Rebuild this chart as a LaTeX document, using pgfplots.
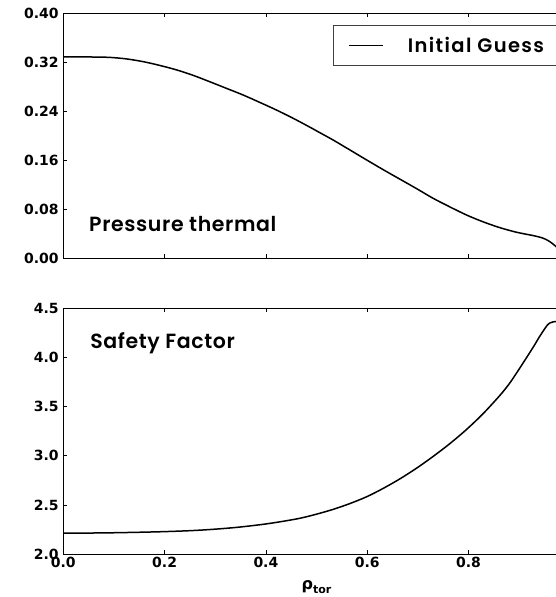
\documentclass[border=0pt]{standalone}
\usepackage{fontspec}
\usepackage{pgfplots}
\pgfplotsset{compat=1.18}
\setmainfont{DejaVu Sans}
\newfontfamily\tickfont{DejaVu Sans}
\newfontfamily\labfont{Poppins SemiBold}[LetterSpace=3]
\newfontfamily\legfont{Poppins SemiBold}[LetterSpace=7]
\newcommand\tf{\tickfont\bfseries\fontsize{14bp}{16bp}\selectfont}
\newcommand\lf{\labfont\fontsize{20.5bp}{24bp}\selectfont}
\newcommand\legf{\legfont\fontsize{19.5bp}{22bp}\selectfont}

\pgfplotsset{
  myax/.style={
    scale only axis, width=506.5bp, xmin=0, xmax=1,
    tick align=inside, major tick length=4bp,
    axis line style={line width=1.4bp},
    every tick/.style={black, line width=0.8bp},
    ticklabel style={font=\tf},
    /pgf/number format/assume math mode=true,
    xtick={0,0.2,0.4,0.6,0.8,1.0},
    yticklabel style={anchor=east, inner sep=0pt, xshift=-4.5bp},
    xticklabel style={anchor=north, inner sep=0pt, yshift=-2.7bp},
  }
}

\pgfplotstableread{
x p
0.000 0.3290
0.030 0.3289
0.060 0.3286
0.092 0.3280
0.125 0.3255
0.158 0.3210
0.190 0.3150
0.224 0.3075
0.257 0.2985
0.290 0.2880
0.322 0.2775
0.355 0.2666
0.388 0.2545
0.421 0.2420
0.454 0.2285
0.487 0.2140
0.510 0.2035
0.533 0.1930
0.566 0.1768
0.599 0.1605
0.632 0.1445
0.665 0.1290
0.698 0.1135
0.730 0.0980
0.763 0.0840
0.796 0.0707
0.829 0.0595
0.862 0.0500
0.895 0.0425
0.928 0.0370
0.945 0.0335
0.956 0.0295
0.965 0.0245
0.973 0.0190
0.985 0.0100
1.000 0.0030
}\ptab

\pgfplotstableread{
x q
0.000 2.215
0.050 2.216
0.100 2.219
0.150 2.224
0.197 2.230
0.250 2.240
0.296 2.254
0.345 2.275
0.395 2.305
0.430 2.332
0.467 2.366
0.500 2.408
0.533 2.457
0.566 2.516
0.599 2.585
0.632 2.671
0.665 2.768
0.698 2.877
0.730 2.994
0.763 3.124
0.796 3.268
0.829 3.430
0.862 3.615
0.880 3.730
0.895 3.843
0.912 3.978
0.928 4.107
0.940 4.210
0.948 4.273
0.955 4.325
0.961 4.352
0.967 4.362
0.973 4.366
0.985 4.370
1.000 4.370
}\qtab

\begin{document}
\begin{tikzpicture}
\useasboundingbox (0,0) rectangle (556bp,597bp);
\clip (0,0) rectangle (556bp,597bp);

\begin{axis}[myax,
  at={(63.3bp,338.7bp)}, anchor=south west, height=245bp,
  ymin=0, ymax=0.4, ytick={0,0.08,0.16,0.24,0.32,0.40},
  xticklabels={},
  yticklabel style={/pgf/number format/.cd,fixed,fixed zerofill,precision=2},
  legend style={at={(0.533,0.951)}, anchor=north west, draw=black!75,
    line width=0.8bp, fill=white, inner xsep=15bp, inner ysep=12bp,
    nodes={inner sep=0pt, text depth=0pt}, font=\legf},
  legend cell align=left,
  legend image code/.code={\draw[#1] (0bp,0bp) -- (33.4bp,0bp); \path[draw=none] (33.4bp,0bp) -- (58.5bp,0bp);},
]
\addplot[black, line width=1.5bp, smooth] table[x=x,y=p] {\ptab};
\addlegendentry{Initial Guess}
\node[anchor=base west, inner sep=0pt, font=\lf] at (rel axis cs:0.0507,0.1086) {Pressure thermal};
\end{axis}

\begin{axis}[myax,
  at={(63.3bp,42.7bp)}, anchor=south west, height=246bp,
  ymin=2, ymax=4.5, ytick={2,2.5,3,3.5,4,4.5},
  xticklabels={0.0,0.2,0.4,0.6,0.8,{}},
  yticklabel style={/pgf/number format/.cd,fixed,fixed zerofill,precision=1},
  xlabel={{\tickfont\bfseries\fontsize{16bp}{18bp}\selectfont ρ\raisebox{-4.3bp}{\fontsize{11bp}{12bp}\selectfont tor}}},
  xlabel style={at={(axis description cs:0.5,0)}, anchor=base, yshift=-34.7bp, inner sep=0pt},
]
\addplot[black, line width=1.5bp, smooth] table[x=x,y=q] {\qtab};
\node[anchor=base west, inner sep=0pt, font=\lf] at (rel axis cs:0.053,0.837) {Safety Factor};
\end{axis}
\end{tikzpicture}
\end{document}
